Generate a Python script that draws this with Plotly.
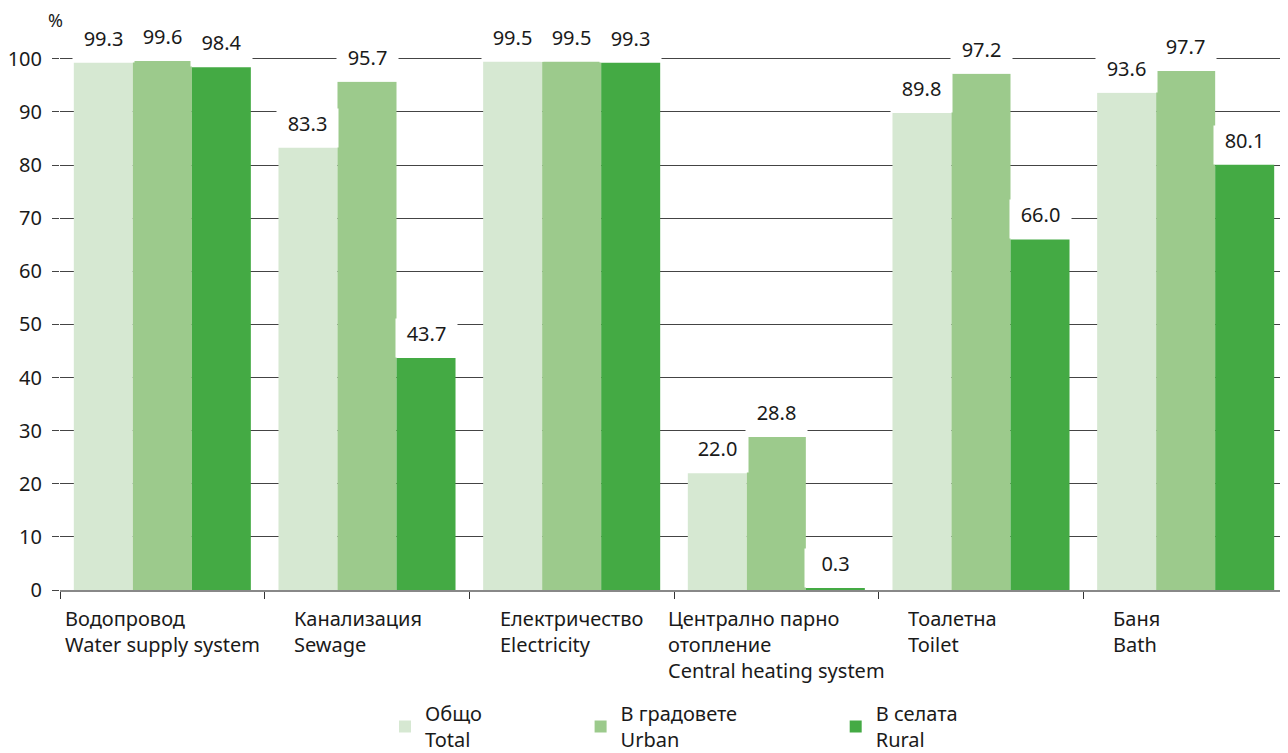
import plotly.graph_objects as go

# ---- data ----
categories_bg = ["Водопровод", "Канализация", "Електричество",
                 "Централно парно<br>отопление", "Тоалетна", "Баня"]
categories_en = ["Water supply system", "Sewage", "Electricity",
                 "Central heating system", "Toilet", "Bath"]
series_bg = ["Общо", "В градовете", "В селата"]
series_en = ["Total", "Urban", "Rural"]
total = [99.3, 83.3, 99.5, 22.0, 89.8, 93.6]
urban = [99.6, 95.7, 99.5, 28.8, 97.2, 97.7]
rural = [98.4, 43.7, 99.3, 0.3, 66.0, 80.1]
y_ticks = [0, 10, 20, 30, 40, 50, 60, 70, 80, 90, 100]

# ---- style ----
FONT = "Noto Sans"
FS = 20
TXT = "#1a1a1a"
colors = ["#d6e8d2", "#9cca8c", "#44aa44"]
BARGAP = 0.135
OFF = 8  # page body margin
W, H = 1288 - OFF, 753 - OFF
ML, MR, MT, MB = 60 - OFF, 0, 27 - OFF, 163
NBSP = "\u00a0"
legend_pad = 18

series = [total, urban, rural]
x_idx = list(range(len(categories_en)))

fig = go.Figure()
for j, vals in enumerate(series):
    name = series_bg[j] + NBSP * legend_pad + "<br>" + series_en[j]
    fig.add_trace(go.Bar(
        x=x_idx, y=vals, name=name,
        marker=dict(color=colors[j], line=dict(width=0)),
        hoverinfo="y",
    ))

plot_w = W - ML - MR
plot_h = H - MT - MB
n = len(categories_en)
bw = (1 - BARGAP) / len(series)
bar_px = plot_w / n * bw

annotations = []
for j, vals in enumerate(series):
    for i, v in enumerate(vals):
        annotations.append(dict(
            x=i + (j - 1) * bw, y=v, xref="x", yref="y",
            text=f"{v:.1f}", showarrow=False,
            xanchor="center", yanchor="bottom",
            width=bar_px, height=36, valign="top", borderpad=1,
            bgcolor="white", font=dict(family=FONT, size=FS, color=TXT),
        ))

for i in x_idx:
    longest = max(len(s) for s in (categories_bg[i].split("<br>") + [categories_en[i]]))
    annotations.append(dict(
        x=i, y=0, xref="x", yref="paper",
        text=categories_bg[i] + "<br>" + categories_en[i],
        showarrow=False, xanchor="center", yanchor="top", align="left",
        width=None if longest > 12 else 146,
        yshift=-13, font=dict(family=FONT, size=FS, color=TXT),
    ))

annotations.append(dict(
    x=(55 - 60) / plot_w, y=(590 - 20) / plot_h, xref="paper", yref="paper",
    text="%", showarrow=False, xanchor="center", yanchor="middle",
    font=dict(family=FONT, size=FS - 2, color=TXT),
))

fig.update_layout(
    width=W, height=H,
    margin=dict(l=ML, r=MR, t=MT, b=MB, autoexpand=False),
    paper_bgcolor="white", plot_bgcolor="white",
    barmode="group", bargap=BARGAP, bargroupgap=0,
    font=dict(family=FONT, size=FS, color=TXT),
    showlegend=True,
    legend=dict(orientation="h", x=(405 - 20 - 60) / plot_w, xanchor="left",
                y=-(694 - 590) / plot_h, yanchor="top",
                font=dict(family=FONT, size=FS, color=TXT),
                bgcolor="rgba(0,0,0,0)", traceorder="normal"),
    annotations=annotations,
    xaxis=dict(
        range=[-0.5, n - 0.5], tickmode="array",
        tickvals=[k - 0.5 for k in range(n + 1)],
        ticktext=["" for _ in range(n + 1)],
        ticks="outside", ticklen=7, tickcolor="#333", tickwidth=1,
        showline=True, linecolor="#888", linewidth=2,
        showgrid=False, zeroline=False, fixedrange=True,
    ),
    yaxis=dict(
        range=[0, 106], tickmode="array", tickvals=y_ticks,
        ticktext=[str(t) for t in y_ticks],
        ticks="outside", ticklen=7, tickcolor="#444", tickwidth=1,
        showgrid=True, gridcolor="#444", gridwidth=1,
        zeroline=False, showline=False, ticklabelstandoff=6,
        tickfont=dict(family=FONT, size=FS, color=TXT), fixedrange=True,
    ),
)

fig.write_html("out.html")
